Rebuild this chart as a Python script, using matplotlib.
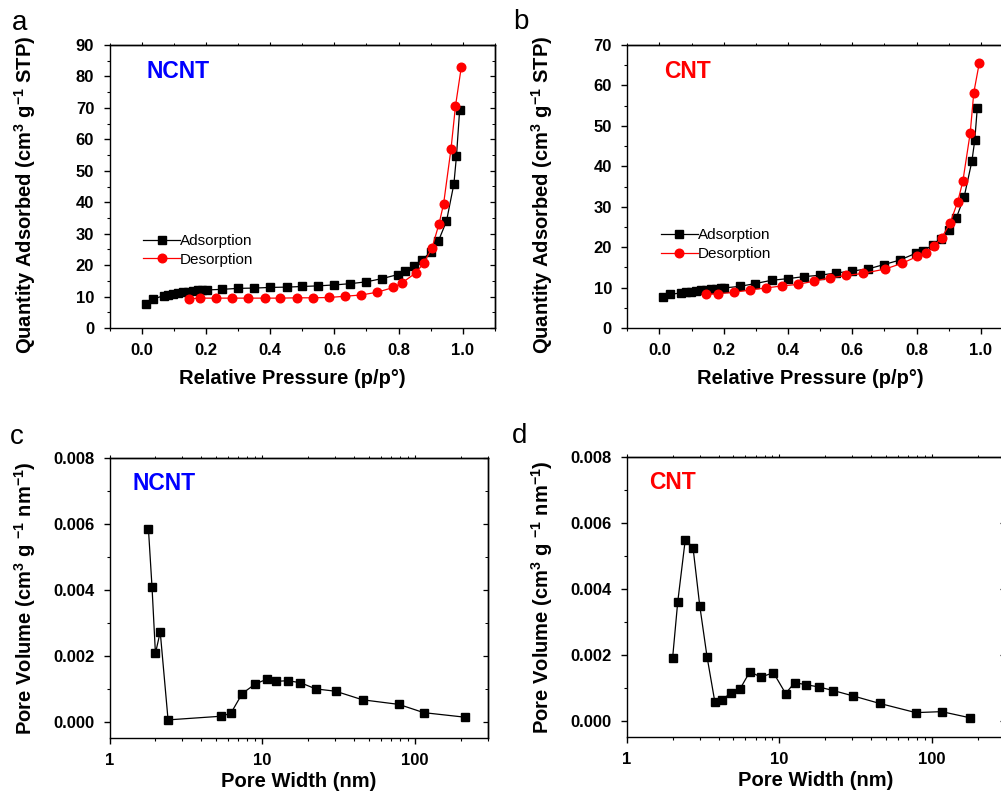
import matplotlib
matplotlib.use("Agg")
import matplotlib.pyplot as plt
from matplotlib.ticker import MultipleLocator, LogLocator, NullFormatter

plt.rcParams['font.family'] = ['Liberation Sans', 'DejaVu Sans']
plt.rcParams['mathtext.default'] = 'regular'

# ---------------- data ----------------
# Panel a: NCNT isotherm
ncnt_ads_x = [0.0125, 0.035, 0.070, 0.083, 0.099, 0.113, 0.129, 0.144, 0.160, 0.174, 0.189, 0.203,
              0.251, 0.300, 0.351, 0.401, 0.451, 0.500, 0.550, 0.600, 0.650, 0.700, 0.748, 0.798,
              0.819, 0.849, 0.874, 0.900, 0.924, 0.949, 0.972, 0.980, 0.990]
ncnt_ads_y = [7.6, 9.2, 10.3, 10.5, 10.9, 11.2, 11.4, 11.6, 11.9, 12.0, 12.1, 12.1,
              12.3, 12.6, 12.7, 12.9, 13.0, 13.2, 13.4, 13.7, 14.1, 14.7, 15.7, 17.0,
              18.1, 19.7, 21.7, 24.2, 27.7, 34.0, 45.8, 54.6, 69.4]
ncnt_des_x = [0.995, 0.977, 0.963, 0.940, 0.926, 0.904, 0.878, 0.853, 0.810, 0.784, 0.734, 0.684,
              0.633, 0.583, 0.533, 0.483, 0.432, 0.383, 0.331, 0.282, 0.232, 0.183, 0.146]
ncnt_des_y = [82.9, 70.6, 56.9, 39.5, 33.2, 25.5, 20.6, 17.5, 14.3, 12.9, 11.4, 10.5,
              10.1, 9.7, 9.6, 9.6, 9.5, 9.5, 9.5, 9.5, 9.5, 9.5, 9.3]

# Panel b: CNT isotherm
cnt_ads_x = [0.010, 0.033, 0.068, 0.083, 0.099, 0.115, 0.130, 0.146, 0.161, 0.176, 0.192, 0.201,
             0.250, 0.299, 0.349, 0.399, 0.449, 0.499, 0.549, 0.599, 0.649, 0.699, 0.748, 0.798,
             0.821, 0.850, 0.876, 0.900, 0.924, 0.948, 0.972, 0.981, 0.989]
cnt_ads_y = [7.6, 8.3, 8.7, 8.8, 9.0, 9.2, 9.3, 9.5, 9.6, 9.75, 9.8, 9.9,
             10.3, 11.0, 11.8, 12.2, 12.7, 13.05, 13.6, 14.1, 14.6, 15.7, 16.8, 18.5,
             19.1, 20.5, 22.1, 24.2, 27.3, 32.4, 41.2, 46.4, 54.5]
cnt_des_x = [0.995, 0.978, 0.967, 0.944, 0.928, 0.904, 0.878, 0.853, 0.828, 0.802, 0.755, 0.703,
             0.634, 0.582, 0.532, 0.482, 0.432, 0.381, 0.331, 0.281, 0.231, 0.182, 0.144]
cnt_des_y = [65.5, 58.2, 48.3, 36.3, 31.2, 25.9, 22.3, 20.2, 18.6, 17.7, 16.0, 14.6,
             13.5, 13.0, 12.4, 11.6, 10.8, 10.4, 9.9, 9.4, 8.8, 8.5, 8.3]

# Panel c: NCNT pore size distribution
ncnt_pw = [1.80, 1.90, 2.00, 2.15, 2.42, 5.36, 6.24, 7.41, 9.02, 10.8, 12.4, 14.7, 17.8,
           22.5, 30.3, 45.5, 78.8, 114.6, 215]
ncnt_pv = [0.00584, 0.00407, 0.00207, 0.00272, 0.00005, 0.00016, 0.00025, 0.00085, 0.00114,
           0.00129, 0.00122, 0.00124, 0.00118, 0.00099, 0.00092, 0.00066, 0.00052, 0.00027, 0.00013]

# Panel d: CNT pore size distribution
cnt_pw = [2.00, 2.16, 2.42, 2.72, 3.01, 3.36, 3.78, 4.24, 4.83, 5.53, 6.41, 7.57, 9.16, 11.0,
          12.6, 14.9, 18.1, 22.6, 30.3, 45.4, 78.5, 116, 179]
cnt_pv = [0.00191, 0.00360, 0.00549, 0.00525, 0.00349, 0.00194, 0.00057, 0.00063, 0.00085,
          0.00096, 0.00148, 0.00132, 0.00145, 0.00082, 0.00115, 0.00109, 0.00102, 0.00091,
          0.00075, 0.00052, 0.00024, 0.00027, 0.00008]

iso_xticks = [0.0, 0.2, 0.4, 0.6, 0.8, 1.0]
psd_yticks = [0.000, 0.002, 0.004, 0.006, 0.008]
psd_xticks = [1, 10, 100]

# ---------------- figure ----------------
W, H = 1001, 799
fig = plt.figure(figsize=(W / 100, H / 100), dpi=100)

def px_axes(left, top, right, bottom):
    return fig.add_axes([left / W, 1 - bottom / H, (right - left) / W, (bottom - top) / H])

ax_a = px_axes(109.5, 45, 495, 328)
ax_b = px_axes(627.2, 45, 1013, 328)
ax_c = px_axes(109.5, 458, 487.5, 738)
ax_d = px_axes(626.7, 457, 1004.7, 737)

TICK_FS = 12
LAB_FS = 14.5

def style(ax, logx=False):
    for s in ax.spines.values():
        s.set_linewidth(1.0)
    ax.tick_params(which='major', direction='out', length=4.5, width=1.0, pad=6.5,
                   labelsize=TICK_FS, top=False, right=False)
    ax.tick_params(which='minor', direction='out', length=2.5, width=0.8,
                   top=False, right=False)
    for lab in ax.get_xticklabels() + ax.get_yticklabels():
        lab.set_fontweight('bold')
    # mirrored ticks on top/right
    sx = ax.secondary_xaxis('top')
    sy = ax.secondary_yaxis('right')
    sx.set_xticks(ax.get_xticks())
    sy.set_yticks(ax.get_yticks())
    if logx:
        sx.xaxis.set_minor_locator(LogLocator(base=10, subs=range(2, 10)))
        sx.xaxis.set_minor_formatter(NullFormatter())
    else:
        sx.xaxis.set_minor_locator(ax.xaxis.get_minor_locator())
    sy.yaxis.set_minor_locator(ax.yaxis.get_minor_locator())
    sx.tick_params(which='major', direction='out', length=2.5, width=0.8, labeltop=False)
    sx.tick_params(which='minor', direction='out', length=1.5, width=0.7)
    sy.tick_params(which='major', direction='in', length=3.5, width=0.9, labelright=False)
    sy.tick_params(which='minor', direction='in', length=2, width=0.7)
    for sa in (sx, sy):
        for s in sa.spines.values():
            s.set_linewidth(1.0)

def iso_panel(ax, ax_x, ax_y, de_x, de_y, ymax, name, color, leg_y):
    ax.plot(ax_x, ax_y, '-s', color='black', lw=0.9, ms=5.5, label='Adsorption', zorder=3)
    ax.plot(de_x, de_y, '-o', color='red', mec='red', mfc='red', lw=0.9, ms=6.2,
            label='Desorption', zorder=3)
    ax.set_xlim(-0.1, 1.1)
    ax.set_ylim(0, ymax)
    ax.set_xticks(iso_xticks)
    ax.set_xticklabels([f'{v:.1f}' for v in iso_xticks])
    ax.xaxis.set_minor_locator(MultipleLocator(0.1))
    ax.yaxis.set_major_locator(MultipleLocator(10))
    ax.yaxis.set_minor_locator(MultipleLocator(5))
    ax.set_xlabel('Relative Pressure (p/p°)', fontsize=LAB_FS, fontweight='bold')
    ax.set_ylabel('Quantity Adsorbed (cm$^3$ g$^{-1}$ STP)', fontsize=LAB_FS,
                  fontweight='bold')
    ax.xaxis.set_label_coords(0.475, -0.145)
    ax.yaxis.set_label_coords(-0.186, 0.47)
    ax.text(0.095, 0.905, name, transform=ax.transAxes, color=color, fontsize=16.5,
            fontweight='bold', ha='left', va='center')
    ax.legend(loc='upper left', bbox_to_anchor=(0.06, leg_y), frameon=False, fontsize=11,
              handlelength=2.4, handletextpad=0.0, borderpad=0.2, labelspacing=0.3)
    style(ax)

def psd_panel(ax, x, y, name, color):
    ax.plot(x, y, '-s', color='black', lw=0.9, ms=6, zorder=3)
    ax.set_xscale('log')
    ax.set_xlim(1, 300)
    ax.set_ylim(-0.0005, 0.008)
    ax.set_xticks(psd_xticks)
    ax.set_xticklabels([str(v) for v in psd_xticks])
    ax.xaxis.set_minor_locator(LogLocator(base=10, subs=range(2, 10)))
    ax.xaxis.set_minor_formatter(NullFormatter())
    ax.set_yticks(psd_yticks)
    ax.set_yticklabels([f'{v:.3f}' for v in psd_yticks])
    ax.yaxis.set_minor_locator(MultipleLocator(0.001))
    ax.set_xlabel('Pore Width (nm)', fontsize=LAB_FS, fontweight='bold')
    ax.set_ylabel('Pore Volume (cm$^3$ g $^{-1}$ nm$^{-1}$)', fontsize=LAB_FS,
                  fontweight='bold')
    ax.xaxis.set_label_coords(0.5, -0.12)
    ax.yaxis.set_label_coords(-0.189, 0.5)
    ax.text(0.06, 0.91, name, transform=ax.transAxes, color=color, fontsize=16.5,
            fontweight='bold', ha='left', va='center')
    style(ax, logx=True)

iso_panel(ax_a, ncnt_ads_x, ncnt_ads_y, ncnt_des_x, ncnt_des_y, 90, 'NCNT', '#0000ff', 0.37)
iso_panel(ax_b, cnt_ads_x, cnt_ads_y, cnt_des_x, cnt_des_y, 70, 'CNT', '#ff0000', 0.39)
psd_panel(ax_c, ncnt_pw, ncnt_pv, 'NCNT', '#0000ff')
psd_panel(ax_d, cnt_pw, cnt_pv, 'CNT', '#ff0000')

for lt, (x, y) in zip('abcd', [(20, 30), (521, 29), (17, 444), (520, 443)]):
    fig.text(x / W, 1 - y / H, lt, fontsize=20, ha='center', va='baseline')

fig.savefig('out.png', dpi=100)
